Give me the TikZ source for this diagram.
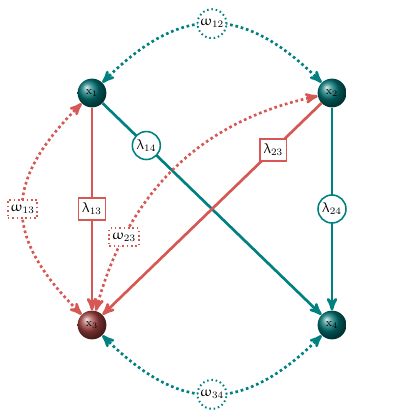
\documentclass[tikz,border=0pt]{standalone}
\usepackage{amsmath}
\usepackage{upgreek}
\usepackage{tikz}
\usetikzlibrary{arrows,shapes.geometric}
\definecolor{mteal}{RGB}{0,128,128}
\definecolor{mred}{RGB}{214,88,84}

\begin{document}
\begin{tikzpicture}[
    var/.style={circle,minimum size=0.72cm,inner sep=0pt,font=\footnotesize},
    tealvar/.style={var,ball color=mteal!90!black},
    redvar/.style={var,ball color=mred!75!black},
    tealedge/.style={draw=mteal,line width=1.9pt,-stealth'},
    rededge/.style={draw=mred,line width=1.9pt,-stealth'},
    tealcov/.style={draw=mteal,line width=1.9pt,dotted,stealth'-stealth'},
    redcov/.style={draw=mred,line width=1.9pt,dotted,stealth'-stealth'},
    lamcirc/.style={circle,draw=mteal,line width=1.1pt,fill=white,inner sep=1pt,minimum size=0.7cm},
    lamrect/.style={rectangle,draw=mred,line width=1.1pt,fill=white,inner sep=2.5pt,minimum size=0.55cm},
    omcirc/.style={lamcirc,dotted,line width=1.4pt},
    omrect/.style={lamrect,dotted,line width=1.4pt,minimum height=0.45cm,inner sep=2pt}
]
    \useasboundingbox (-2.3,-2.375) rectangle (8.2,8.125);
    % --- VARIABLES ---
    \node[tealvar] (x1) at (0,5.8) {x$_1$};
    \node[tealvar] (x2) at (6,5.8) {x$_2$};
    \node[redvar]  (x3) at (0,0)   {x$_3$};
    \node[tealvar] (x4) at (6,0)   {x$_4$};

    % --- DIRECTED EDGES ---
    \draw[tealedge] (x1) -- node[lamcirc,pos=0.2] {$\uplambda_{14}$} (x4);
    \draw[tealedge] (x2) -- node[lamcirc] {$\uplambda_{24}$} (x4);
    \draw[rededge] (x1) -- node[lamrect] {$\uplambda_{13}$} (x3);
    \draw[rededge] (x2) -- node[lamrect,pos=0.22] {$\uplambda_{23}$} (x3);

    % --- COVARIANCES ---
    \draw[tealcov] (x1) to[bend left=45,looseness=1.3] node[omcirc] {$\upomega_{12}$} (x2);
    \draw[tealcov] (x3) to[bend right=45,looseness=1.3] node[omcirc] {$\upomega_{34}$} (x4);
    \draw[redcov] (x1) to[bend right=45,looseness=1.35] node[omrect] {$\upomega_{13}$} (x3);
    \draw[redcov] (x2) to[out=192,in=75] node[omrect,pos=0.77] {$\upomega_{23}$} (x3);
\end{tikzpicture}
\end{document}
